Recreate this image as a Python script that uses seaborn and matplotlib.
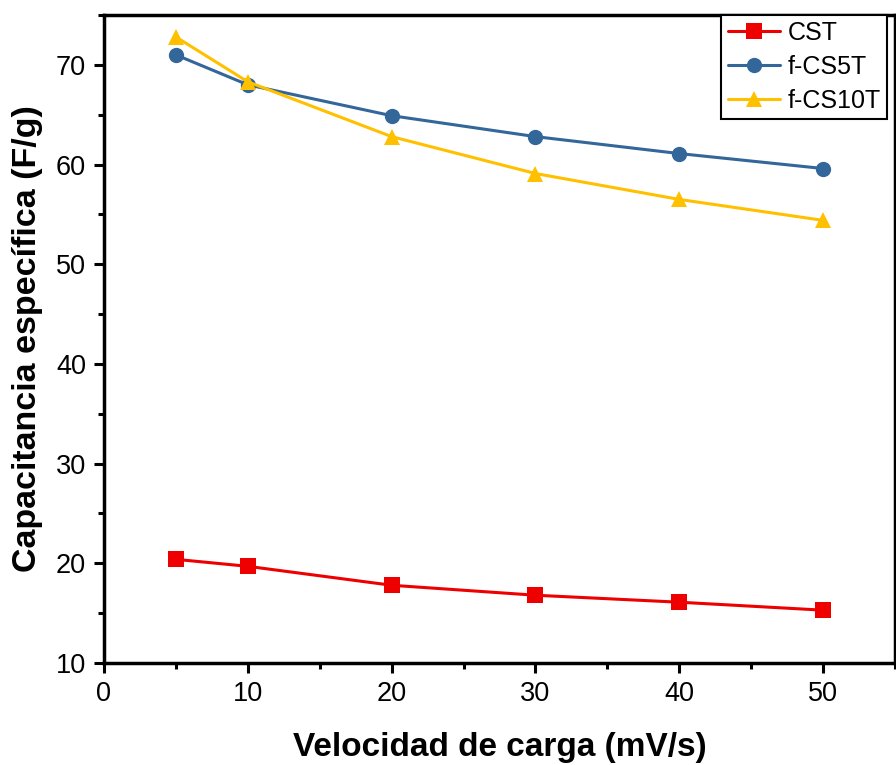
import matplotlib
matplotlib.use("Agg")
import matplotlib.pyplot as plt
import seaborn as sns
import pandas as pd
from matplotlib.ticker import MultipleLocator

sns.set_theme(style="ticks")
plt.rcParams['font.family'] = ['Liberation Sans', 'DejaVu Sans']
plt.rcParams['text.color'] = 'black'
plt.rcParams['axes.labelcolor'] = 'black'

rates = [5, 10, 20, 30, 40, 50]
cst = [20.4, 19.7, 17.8, 16.8, 16.1, 15.3]
fcs5t = [71.0, 68.0, 64.9, 62.8, 61.1, 59.6]
fcs10t = [72.8, 68.3, 62.8, 59.1, 56.5, 54.4]
series = ["CST", "f-CS5T", "f-CS10T"]
colors = ["#ee0000", "#336699", "#ffc000"]
markers = ["s", "o", "^"]

df = pd.concat([
    pd.DataFrame({"x": rates, "y": vals, "s": name})
    for name, vals in zip(series, [cst, fcs5t, fcs10t])
])

fig = plt.figure(figsize=(8.96, 7.65), dpi=100)
ax = fig.add_axes([0.116, 0.1333, 0.883, 0.8471])
for name, c, m in zip(series, colors, markers):
    sub = df[df.s == name]
    sns.lineplot(data=sub, x="x", y="y", ax=ax, color=c, marker=m, markersize=11,
                 markeredgewidth=0, linewidth=2.2, label=name)

ax.set_xlim(0, 55)
ax.set_ylim(10, 75)
ax.xaxis.set_major_locator(MultipleLocator(10))
ax.xaxis.set_minor_locator(MultipleLocator(5))
ax.yaxis.set_major_locator(MultipleLocator(10))
ax.yaxis.set_minor_locator(MultipleLocator(5))
ax.tick_params(which="major", length=7, width=2.2, labelsize=19.5, direction="out",
               colors="black", pad=6)
ax.tick_params(which="minor", length=4, width=2.2, direction="out", colors="black")
ax.tick_params(axis="x", which="both", top=False)
ax.tick_params(axis="y", which="both", right=False)
for s in ax.spines.values():
    s.set_linewidth(2.5)
    s.set_color("black")
    s.set_visible(True)

ax.set_xlabel("Velocidad de carga (mV/s)", fontsize=24, fontweight="bold", labelpad=18)
ax.set_ylabel("Capacitancia específica (F/g)", fontsize=24.5, fontweight="bold", labelpad=9)

leg = ax.legend(loc="upper right", fontsize=18, frameon=True, fancybox=False,
                edgecolor="black", framealpha=1, borderaxespad=0.0,
                handlelength=2.1, handletextpad=0.3, borderpad=0.25, labelspacing=0.4,
                bbox_to_anchor=(0.99, 1.0))
leg.get_frame().set_linewidth(1.5)

fig.savefig("out.png", dpi=100)
